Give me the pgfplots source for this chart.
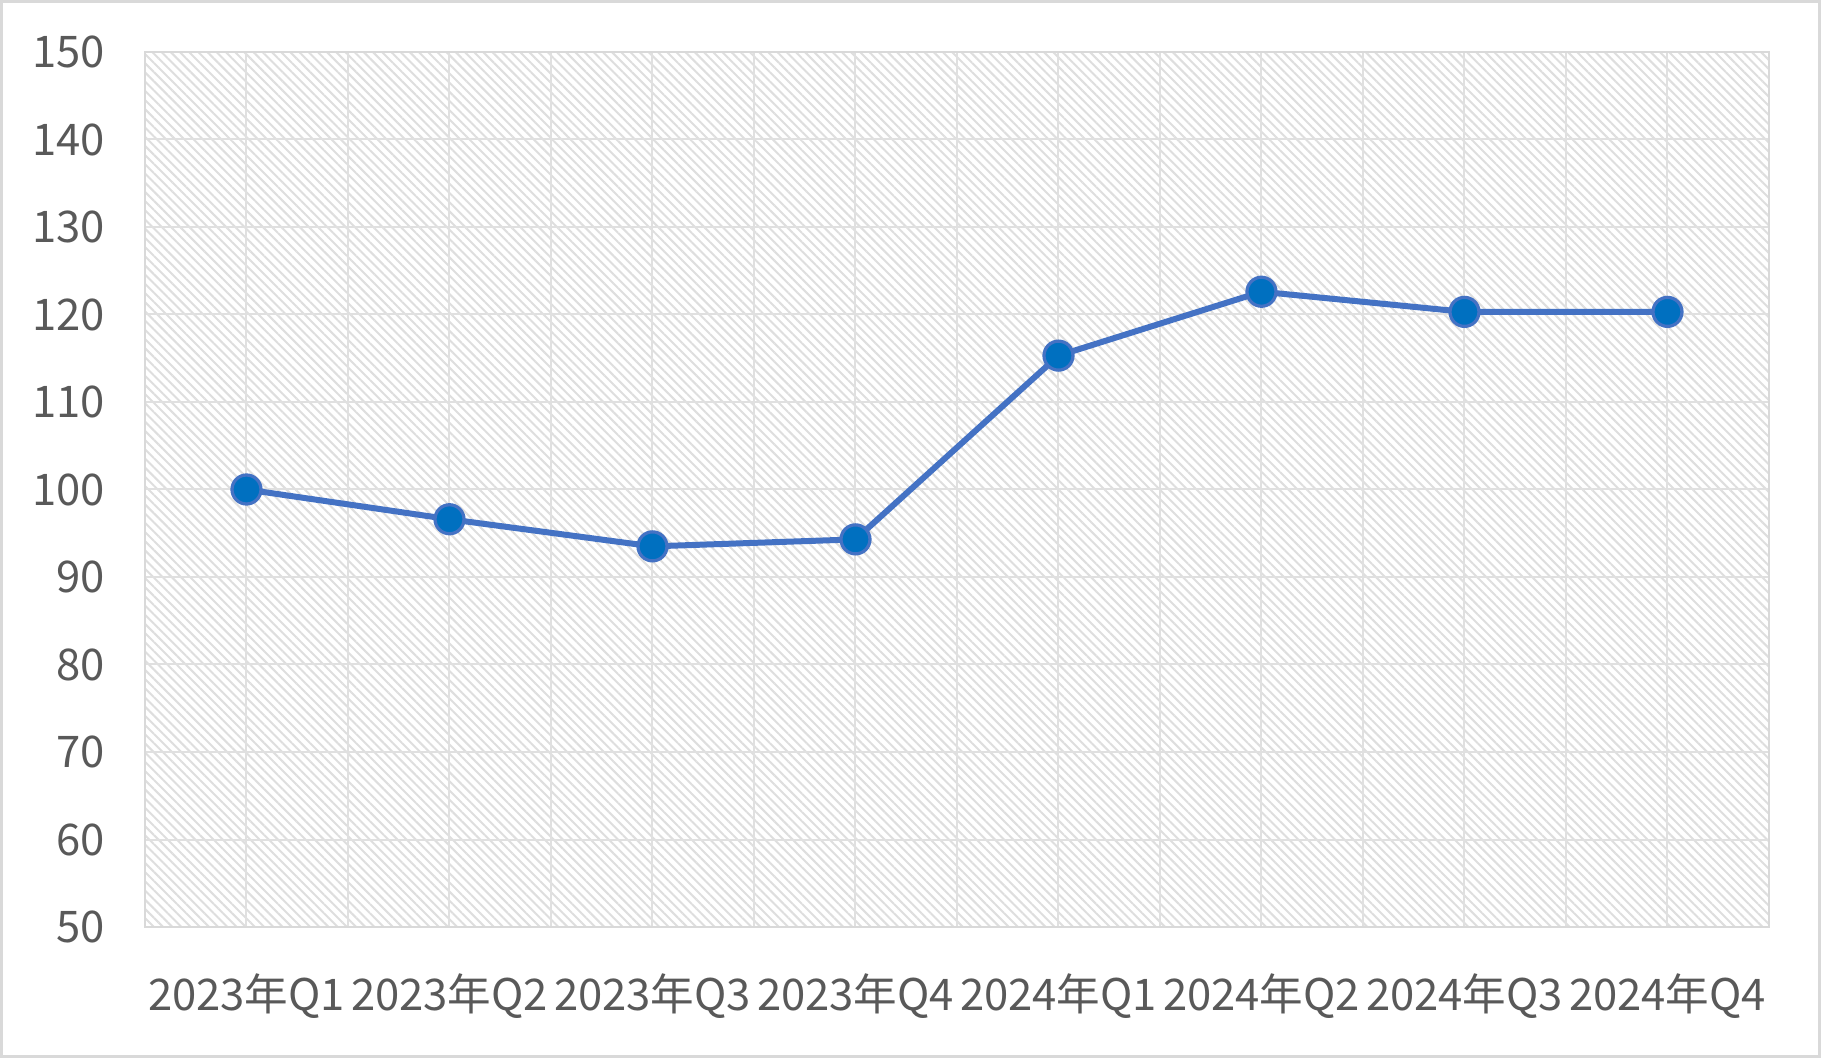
\documentclass[border=0pt]{standalone}
\usepackage{pgfplots}
\pgfplotsset{compat=1.18}
\usetikzlibrary{patterns.meta}
\usepackage{fontspec}
\setmainfont{Noto Sans CJK SC}
\definecolor{gridgray}{HTML}{E0E0E0}
\definecolor{framegray}{HTML}{D9D9D9}
\definecolor{hatch}{HTML}{DEDEDE}
\definecolor{labelgray}{HTML}{595959}
\definecolor{lineblue}{HTML}{4472C4}
\definecolor{markblue}{HTML}{0070C0}
\begin{document}
\begin{tikzpicture}
\path[use as bounding box] (-58bp,-52.4bp) rectangle (670.4bp,370.8bp);
\fill[white] (-58bp,-52.4bp) rectangle (670.4bp,370.8bp);
\draw[framegray, line width=1.2bp] (-57.4bp,-51.8bp) rectangle (669.8bp,370.2bp);
\begin{axis}[
  scale only axis, width=649.6bp, height=350bp,
  at={(0,0)}, anchor=south west,
  xmin=-0.5, xmax=7.5, ymin=50, ymax=150,
  xtick={0,...,7},
  xticklabels={2023年Q1,2023年Q2,2023年Q3,2023年Q4,2024年Q1,2024年Q2,2024年Q3,2024年Q4},
  minor x tick num=1,
  ytick={50,60,...,150},
  grid=both,
  major grid style={color=gridgray, line width=0.8bp},
  minor grid style={color=gridgray, line width=0.8bp},
  major tick length=0, minor tick length=0,
  tick style={draw=none},
  axis line style={color=framegray, line width=0.8bp},
  ticklabel style={font=\fontsize{17.5}{20}\selectfont, text=labelgray},
  yticklabel style={xshift=-12.5bp},
  xticklabel style={yshift=-15bp},
  /pgf/number format/assume math mode=true,
  axis background/.style={pattern={Lines[angle=-45,distance=2.6bp,line width=0.8bp]}, pattern color=hatch},
]
\addplot[color=lineblue, line width=2.4bp, mark=*, mark size=5.8bp,
  mark options={fill=markblue, draw=lineblue, line width=1.3bp}]
  coordinates {(0,100) (1,96.6) (2,93.5) (3,94.3) (4,115.3) (5,122.6) (6,120.3) (7,120.3)};
\end{axis}
\end{tikzpicture}
\end{document}
